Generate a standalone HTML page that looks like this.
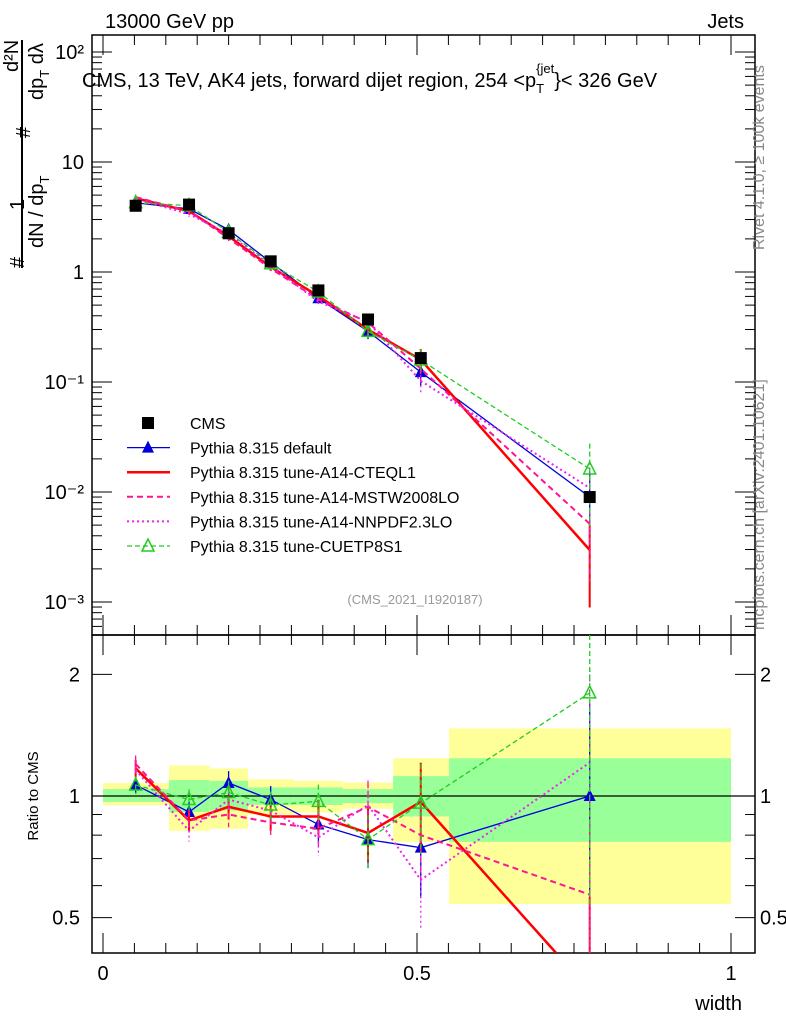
<!DOCTYPE html>
<html><head><meta charset="utf-8">
<style>
html,body{margin:0;padding:0;background:#fff;width:786px;height:1024px;overflow:hidden;}
svg{display:block;font-family:"Liberation Sans",sans-serif;}
</style></head>
<body>
<svg id="c" width="786" height="1024" viewBox="0 0 786 1024">
<g id="bands"></g>
<g id="axes"></g>
<g id="series"></g>
<g id="legend"></g>
<text x="105" y="28" font-size="20">13000 GeV pp</text>
<text x="744" y="28" font-size="20" text-anchor="end">Jets</text>
<text x="82" y="87" font-size="20">CMS, 13 TeV, AK4 jets, forward dijet region, 254 &lt;p<tspan font-size="13" dy="6">T</tspan><tspan font-size="13" dy="-20" dx="-8">{jet</tspan><tspan dy="14">}&lt; 326 GeV</tspan></text>
<text x="415" y="604" font-size="13" fill="#999" text-anchor="middle">(CMS_2021_I1920187)</text>
<text transform="translate(764,250) rotate(-90)" font-size="16" fill="#888">Rivet 4.1.0, ≥ 100k events</text>
<text transform="translate(764,630) rotate(-90)" font-size="16" fill="#888">mcplots.cern.ch [arXiv:2401.10621]</text>
<g font-size="20">
<text transform="translate(24,268) rotate(-90)">#</text>
<text transform="translate(24,210) rotate(-90)">1</text>
<line x1="22" y1="268" x2="22" y2="40" stroke="#000" stroke-width="2"/>
<text transform="translate(18,72) rotate(-90)">d²N</text>
<text transform="translate(43,248) rotate(-90)">dN / dp<tspan font-size="13" dy="6">T</tspan></text>
<text transform="translate(30,138) rotate(-90)">#</text>
<text transform="translate(43,100) rotate(-90)">dp<tspan font-size="13" dy="6">T</tspan><tspan dy="-6"> dλ</tspan></text>
</g>
<text transform="translate(38,796) rotate(-90)" font-size="15" text-anchor="middle">Ratio to CMS</text>
<text x="742" y="1010" font-size="20" text-anchor="end">width</text>
</svg>
<script>
const binEdges=[0,0.105,0.17,0.231,0.304,0.382,0.462,0.551,1.0];
const xCenters=[0.052,0.137,0.2,0.267,0.343,0.422,0.506,0.775];
const cmsVals=[4.0,4.1,2.25,1.25,0.68,0.37,0.165,0.009];
const yellowHi=[1.077,1.19,1.17,1.1,1.09,1.08,1.24,1.47];
const yellowLo=[0.948,0.82,0.83,0.9,0.91,0.93,0.77,0.54];
const greenHi=[1.04,1.095,1.09,1.05,1.05,1.04,1.12,1.24];
const greenLo=[0.967,0.913,0.92,0.95,0.95,0.96,0.89,0.77];
const ratioDefault=[1.065,0.913,1.077,0.98,0.85,0.78,0.745,1.0];
const ratioCTEQ=[1.17,0.87,0.94,0.89,0.89,0.81,0.967,0.33];
const ratioMSTW=[1.2,0.87,0.9,0.86,0.83,0.94,0.8,0.57];
const ratioNNPDF=[1.16,0.82,0.98,0.92,0.79,0.95,0.62,1.21];
const ratioCUETP=[1.065,0.98,1.02,0.95,0.97,0.78,0.96,1.8];
const relErr=[0.05,0.06,0.07,0.08,0.1,0.15,0.25,0.7];
const mainTicks=[["10⁻³",1e-3],["10⁻²",1e-2],["10⁻¹",1e-1],["1",1],["10",10],["10²",100]];
const ratioTicks=[["0.5",0.5],["1",1],["2",2]];
const xTicks=[["0",0],["0.5",0.5],["1",1]];

const NS="http://www.w3.org/2000/svg";
const L=92,R=755,T=35,M=635,B=953;
const clamp=(v,a,b)=>Math.max(a,Math.min(b,v));
const X=v=>103+628*v;
const Y=v=>clamp(272-110*Math.log10(v),T,M);
const YR=r=>clamp(796-404*Math.log10(r),M,B+60);
function mk(p,tag,a){const e=document.createElementNS(NS,tag);for(const k in a)e.setAttribute(k,a[k]);p.appendChild(e);return e;}
const gB=document.getElementById('bands'),gA=document.getElementById('axes'),gS=document.getElementById('series'),gL=document.getElementById('legend');
for(let i=0;i<binEdges.length-1;i++){
 let x0=X(binEdges[i]),x1=Math.min(X(binEdges[i+1]),R);
 let y=mk(gB,'rect',{x:x0,y:YR(yellowHi[i]),width:x1-x0,height:YR(yellowLo[i])-YR(yellowHi[i]),fill:'#ffff99'});
 
 
 let g=mk(gB,'rect',{x:x0,y:YR(greenHi[i]),width:x1-x0,height:YR(greenLo[i])-YR(greenHi[i]),fill:'#99ff99'});
 
 
}
mk(gA,'line',{x1:L,x2:R,y1:YR(1),y2:YR(1),stroke:'#000','stroke-width':1.2});
mk(gA,'rect',{x:L,y:T,width:R-L,height:M-T,fill:'none',stroke:'#000','stroke-width':1.5});
mk(gA,'rect',{x:L,y:M,width:R-L,height:B-M,fill:'none',stroke:'#000','stroke-width':1.5});
for(let d=-4;d<=2;d++){for(let m=1;m<10;m++){const v=m*Math.pow(10,d);const y=272-110*Math.log10(v);if(y<T||y>M)continue;const len=m==1?20:10;
 mk(gA,'line',{x1:L,x2:L+len,y1:y,y2:y,stroke:'#000'});mk(gA,'line',{x1:R,x2:R-len,y1:y,y2:y,stroke:'#000'});}}
mainTicks.forEach(t=>{const e=mk(gA,'text',{x:84,y:Y(t[1])+7,'font-size':20,'text-anchor':'end'});e.textContent=t[0];
 
 });
[0.5,0.6,0.7,0.8,0.9,1,2].forEach(v=>{const y=YR(v);const len=(v==1||v==2||v==0.5)?20:10;
 mk(gA,'line',{x1:L,x2:L+len,y1:y,y2:y,stroke:'#000'});mk(gA,'line',{x1:R,x2:R-len,y1:y,y2:y,stroke:'#000'});});
ratioTicks.forEach(t=>{const e=mk(gA,'text',{x:80,y:YR(t[1])+7,'font-size':20,'text-anchor':'end'});e.textContent=t[0];
 
 
 const e2=mk(gA,'text',{x:760,y:YR(t[1])+7,'font-size':20});e2.textContent=t[0];
 
 });
for(let i=0;i<=20;i++){const v=i*0.05;const x=X(v);const len=i%10==0?20:10;
 [[T,1],[M,1],[M,-1],[B,-1]].forEach(p=>mk(gA,'line',{x1:x,x2:x,y1:p[0],y2:p[0]+p[1]*len,stroke:'#000'}));}
xTicks.forEach(t=>{const e=mk(gA,'text',{x:X(t[1]),y:980,'font-size':20,'text-anchor':'middle'});e.textContent=t[0];
 
 });
const defs=mk(document.getElementById('c'),'defs',{});
const c1=mk(defs,'clipPath',{id:'cm'});mk(c1,'rect',{x:L,y:T,width:R-L,height:M-T});
const c2=mk(defs,'clipPath',{id:'cr'});mk(c2,'rect',{x:L,y:M,width:R-L,height:B-M});
const gm=mk(gS,'g',{'clip-path':'url(#cm)'}),gr=mk(gS,'g',{'clip-path':'url(#cr)'});
function marker(g,x,y,type,col){
 if(type=='sq')return mk(g,'rect',{x:x-6,y:y-6,width:12,height:12,fill:'#000'});
 if(type=='tri')return mk(g,'polygon',{points:`${x},${y-7} ${x-6},${y+5} ${x+6},${y+5}`,fill:col});
 if(type=='otri')return mk(g,'polygon',{points:`${x},${y-7} ${x-6},${y+5} ${x+6},${y+5}`,fill:'none',stroke:col,'stroke-width':1.5});
 return null;
}
const series=[
 {name:'Pythia 8.315 default',r:ratioDefault,col:'#0000dd',w:1.3,dash:'',m:'tri'},
 {name:'Pythia 8.315 tune-A14-CTEQL1',r:ratioCTEQ,col:'#ff0000',w:2.5,dash:'',m:''},
 {name:'Pythia 8.315 tune-A14-MSTW2008LO',r:ratioMSTW,col:'#ff1493',w:2,dash:'6,4',m:''},
 {name:'Pythia 8.315 tune-A14-NNPDF2.3LO',r:ratioNNPDF,col:'#ee22ee',w:2,dash:'2,3',m:''},
 {name:'Pythia 8.315 tune-CUETP8S1',r:ratioCUETP,col:'#22cc22',w:1.3,dash:'5,3',m:'otri'}];
series.forEach(s=>{
 const ptsM=xCenters.map((x,i)=>X(x)+','+Y(cmsVals[i]*s.r[i])).join(' ');
 // ratio line: if a point falls below the panel, cut the segment at the panel bottom
 const rp=xCenters.map((x,i)=>[X(x),796-404*Math.log10(s.r[i])]);
 const out=[];
 rp.forEach((p,i)=>{
  if(p[1]<=B){out.push(p);}
  else if(i>0&&rp[i-1][1]<=B){const q=rp[i-1];const t=(B-q[1])/(p[1]-q[1]);out.push([q[0]+t*(p[0]-q[0]),B]);}
 });
 const ptsR=out.map(p=>p[0]+','+p[1]).join(' ');
 [[gm,ptsM],[gr,ptsR]].forEach(([g,pts])=>{
  const pl=mk(g,'polyline',{points:pts,fill:'none',stroke:s.col,'stroke-width':s.w,'stroke-dasharray':s.dash});
  
  
 });
 xCenters.forEach((x,i)=>{
  const px=X(x),v=cmsVals[i]*s.r[i],e=relErr[i];
  const yl2=Math.min(B,YR(Math.max(s.r[i]*(1-e),0.01)));
  [[gm,Y(v),Y(v*(1+e)),Y(Math.max(v*(1-e),1e-6))],[gr,YR(s.r[i]),YR(s.r[i]*(1+e)),yl2]].forEach(([g,y,yh,yl])=>{
   mk(g,'line',{x1:px,x2:px,y1:yh,y2:yl,stroke:s.col,'stroke-width':s.w>2?2:1.3,'stroke-dasharray':s.dash});
   if(y<B){const mm=marker(g,px,y,s.m,s.col);
   if(mm){
   }}
  });
 });
});
xCenters.forEach((x,i)=>{const m=marker(gm,X(x),Y(cmsVals[i]),'sq');
 
 });
const entries=[{name:'CMS',m:'sq'}].concat(series);
entries.forEach((s,i)=>{const y=423+24.6*i;const g=mk(gL,'g',{});
 
 
 if(s.col)mk(g,'line',{x1:127,x2:170,y1:y,y2:y,stroke:s.col,'stroke-width':s.w,'stroke-dasharray':s.dash});
 if(s.m)marker(g,148,y,s.m,s.col);
 const t=mk(g,'text',{x:190,y:y+6,'font-size':16});t.textContent=s.name;});
</script>
</body></html>
